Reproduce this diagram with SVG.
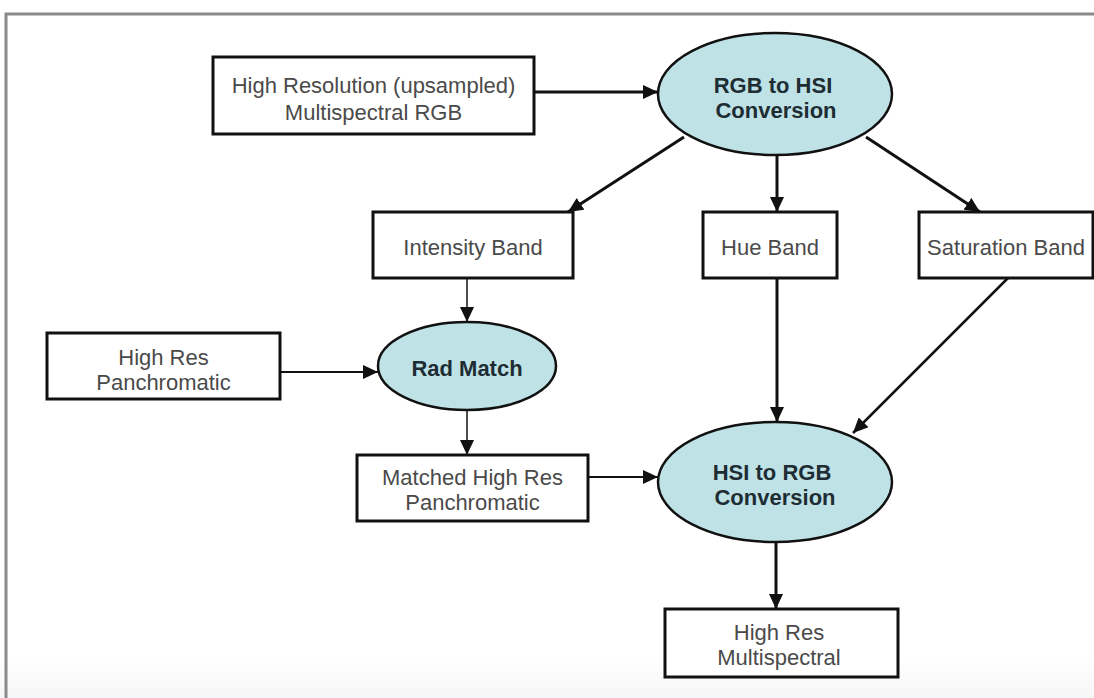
<svg xmlns="http://www.w3.org/2000/svg" width="1094" height="698" viewBox="0 0 1094 698">
<defs>
<style>
.box{fill:#fff;stroke:#111;stroke-width:3}
.ell{fill:#bfe2e7;stroke:#111;stroke-width:2.5}
.bt{font-family:"Liberation Sans",Arial,sans-serif;font-size:22px;fill:#4a4a4a;text-anchor:middle}
.et{font-family:"Liberation Sans",Arial,sans-serif;font-size:22px;font-weight:bold;fill:#1e2d33;text-anchor:middle}
.c{fill:none;stroke:#111;marker-end:url(#ah)}
</style>
<marker id="ah" markerUnits="userSpaceOnUse" markerWidth="16" markerHeight="14" refX="15" refY="7" orient="auto">
<path d="M0,0 L15,7 L0,14 Z" fill="#111"/>
</marker>
<linearGradient id="bg" x1="0" y1="0" x2="0" y2="1">
<stop offset="0" stop-color="#ffffff"/>
<stop offset="1" stop-color="#f6f6f6"/>
</linearGradient>
</defs>
<rect x="0" y="0" width="1094" height="698" fill="#fff"/>
<rect x="0" y="655" width="1094" height="43" fill="url(#bg)"/>
<path d="M6,698 L6,14 L1094,14" fill="none" stroke="#8a8a8a" stroke-width="3"/>
<g id="connectors">
<line class="c" x1="534" y1="92" x2="658" y2="92" stroke-width="3"/>
<line class="c" x1="684" y1="137" x2="568" y2="212" stroke-width="3"/>
<line class="c" x1="777" y1="155" x2="777" y2="212" stroke-width="3"/>
<line class="c" x1="866" y1="137" x2="980" y2="212" stroke-width="3"/>
<line class="c" x1="467" y1="278" x2="467" y2="322" stroke-width="1.5"/>
<line class="c" x1="280" y1="372" x2="378" y2="372" stroke-width="2"/>
<line class="c" x1="467" y1="410" x2="467" y2="455" stroke-width="1.5"/>
<line class="c" x1="777" y1="278" x2="777" y2="422" stroke-width="3"/>
<line class="c" x1="1008" y1="278" x2="853" y2="433" stroke-width="2.5"/>
<line class="c" x1="589" y1="477" x2="658" y2="477" stroke-width="2"/>
<line class="c" x1="776" y1="543" x2="776" y2="609" stroke-width="3"/>
</g>
<g id="n_ms_rgb">
<rect class="box" x="213" y="57" width="321" height="77"/>
<text class="bt" x="373.5" y="93">High Resolution (upsampled)</text>
<text class="bt" x="373.5" y="120">Multispectral RGB</text>
</g>
<g id="n_rgb2hsi">
<ellipse class="ell" cx="775" cy="94" rx="117" ry="61"/>
<text class="et" x="773" y="93">RGB to HSI</text>
<text class="et" x="776" y="118">Conversion</text>
</g>
<g id="n_intensity">
<rect class="box" x="373" y="212" width="200" height="66"/>
<text class="bt" x="473" y="255">Intensity Band</text>
</g>
<g id="n_hue">
<rect class="box" x="703" y="212" width="134" height="66"/>
<text class="bt" x="770" y="255">Hue Band</text>
</g>
<g id="n_sat">
<rect class="box" x="919" y="212" width="174" height="66"/>
<text class="bt" x="1006" y="255">Saturation Band</text>
</g>
<g id="n_pan">
<rect class="box" x="47" y="333" width="233" height="66"/>
<text class="bt" x="163.5" y="365">High Res</text>
<text class="bt" x="163.5" y="390">Panchromatic</text>
</g>
<g id="n_radmatch">
<ellipse class="ell" cx="467" cy="366" rx="89" ry="44"/>
<text class="et" x="467" y="376">Rad Match</text>
</g>
<g id="n_matched">
<rect class="box" x="357" y="455" width="231" height="66"/>
<text class="bt" x="472.5" y="485">Matched High Res</text>
<text class="bt" x="472.5" y="510">Panchromatic</text>
</g>
<g id="n_hsi2rgb">
<ellipse class="ell" cx="775" cy="482" rx="117" ry="60"/>
<text class="et" x="772" y="480">HSI to RGB</text>
<text class="et" x="775" y="505">Conversion</text>
</g>
<g id="n_out">
<rect class="box" x="665" y="609" width="233" height="68"/>
<text class="bt" x="779" y="640">High Res</text>
<text class="bt" x="779" y="665">Multispectral</text>
</g>
</svg>
